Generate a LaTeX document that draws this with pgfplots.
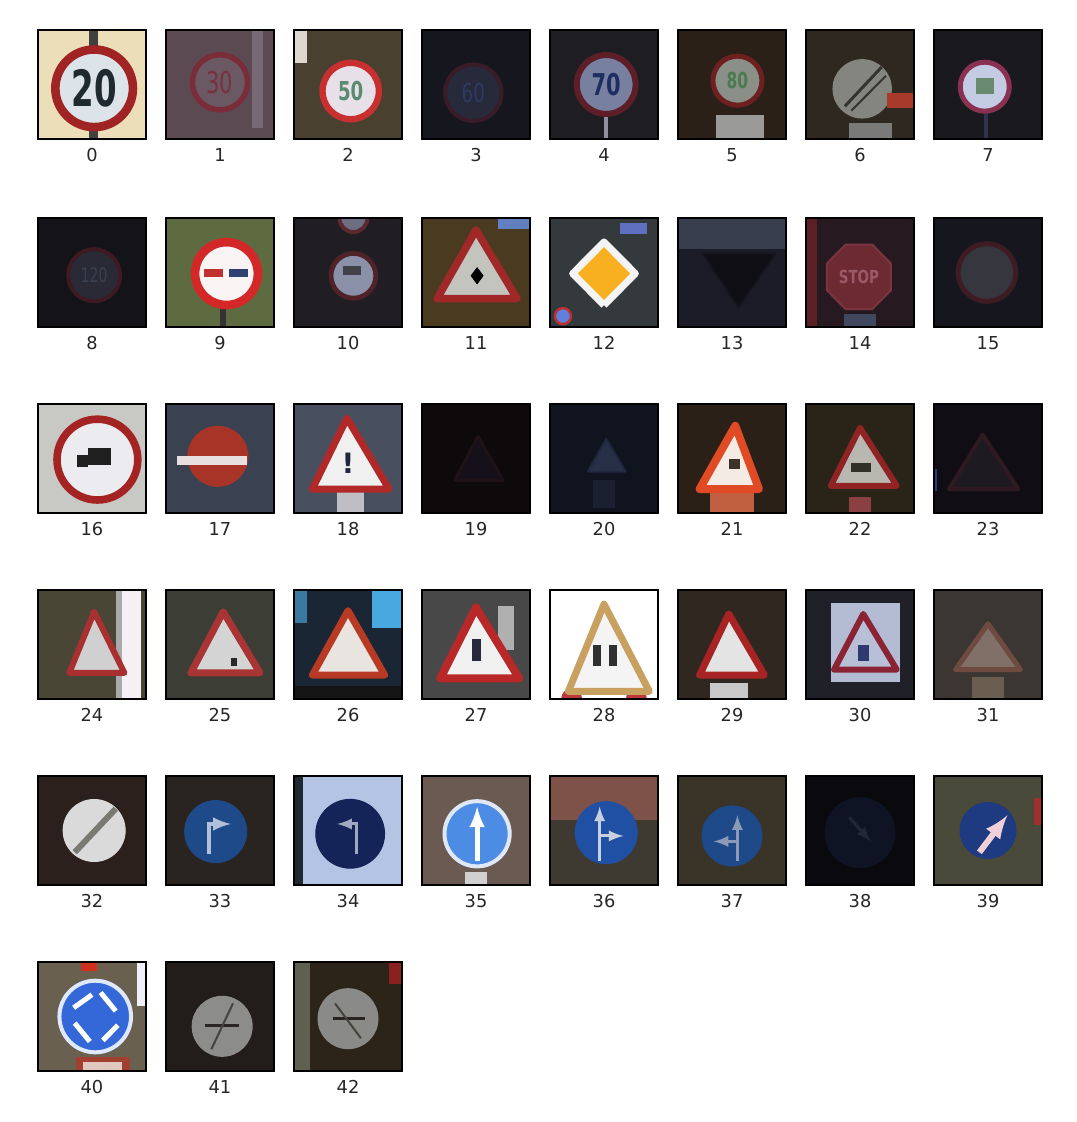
\documentclass[border=0pt]{standalone}
\usepackage{pgfplots}
\pgfplotsset{compat=1.18}
\usepackage{fontspec}
\setmainfont{DejaVu Sans}
\newcommand{\C}[2]{\definecolor{#1}{HTML}{#2}}
\newcommand{\disc}[6]{\addplot[only marks, mark=*, mark size=#3pt, mark options={fill=#4, draw=#5, line width=#6pt}] coordinates {(#1,#2)};}
\newcommand{\tri}[8]{\addplot[fill=#6, draw=#7, line width=#8pt, line join=round, line cap=round] coordinates {(#1,#3) (#2,#3) (#4,#5) (#1,#3)};}
\newcommand{\rect}[5]{\addplot[fill=#5, draw=none] coordinates {(#1,#2) (#3,#2) (#3,#4) (#1,#4)};}
\newcommand{\seg}[6]{\addplot[draw=#5, line width=#6pt] coordinates {(#1,#2) (#3,#4)};}
\newcommand{\arr}[6]{\addplot[draw=#5, line width=#6pt, -latex] coordinates {(#1,#2) (#3,#4)};}
\pgfplotsset{tile/.style={anchor=north west, width=54pt, height=54.5pt, scale only axis,
  xmin=0, xmax=1, ymin=0, ymax=1, xtick=\empty, ytick=\empty, axis on top,
  axis line style={line width=0.6pt, black}, clip marker paths=true}}
\begin{document}
\begin{tikzpicture}
\useasboundingbox (0,0) rectangle (538pt,-561pt);
% ---------- row 0 ----------
\begin{axis}[tile, at={(19pt,-15pt)}, axis background/.style={fill={rgb,255:red,236;green,222;blue,184}}]
\rect{0.47}{0}{0.56}{1}{black!75}
\disc{0.52}{0.465}{19.4}{{rgb,255:red,220;green,228;blue,234}}{{rgb,255:red,160;green,36;blue,36}}{4.3}
\node[font=\fontsize{25}{25}\selectfont\bfseries, text={rgb,255:red,30;green,42;blue,48}, xscale=0.65] at (axis cs:0.52,0.465) {20};
\end{axis}
\begin{axis}[tile, at={(83pt,-15pt)}, axis background/.style={fill={rgb,255:red,92;green,74;blue,82}}]
\rect{0.8}{0.1}{0.9}{1}{{rgb,255:red,120;green,105;blue,118}}
\disc{0.5}{-0.05}{10}{{rgb,255:red,90;green,69;blue,80}}{{rgb,255:red,110;green,42;blue,53}}{2.5}
\disc{0.5}{0.52}{13.8}{{rgb,255:red,106;green,88;blue,98}}{{rgb,255:red,122;green,44;blue,56}}{2.7}
\node[font=\fontsize{15}{15}\selectfont, text={rgb,255:red,122;green,48;blue,64}, xscale=0.7] at (axis cs:0.5,0.52) {30};
\end{axis}
\begin{axis}[tile, at={(147pt,-15pt)}, axis background/.style={fill={rgb,255:red,74;green,64;blue,48}}]
\rect{0}{0.7}{0.12}{1}{{rgb,255:red,224;green,216;blue,208}}
\disc{0.525}{0.44}{14.1}{{rgb,255:red,232;green,224;blue,232}}{{rgb,255:red,200;green,48;blue,48}}{3.2}
\node[font=\fontsize{13}{13}\selectfont\bfseries, text={rgb,255:red,90;green,138;blue,112}, xscale=0.7] at (axis cs:0.525,0.44) {50};
\end{axis}
\begin{axis}[tile, at={(211pt,-15pt)}, axis background/.style={fill={rgb,255:red,22;green,22;blue,30}}]
\disc{0.475}{0.425}{14.1}{{rgb,255:red,38;green,42;blue,58}}{{rgb,255:red,58;green,28;blue,40}}{2}
\node[font=\fontsize{13}{13}\selectfont, text={rgb,255:red,46;green,58;blue,98}, xscale=0.7] at (axis cs:0.475,0.425) {60};
\end{axis}
\begin{axis}[tile, at={(275pt,-15pt)}, axis background/.style={fill={rgb,255:red,30;green,30;blue,34}}]
\rect{0.5}{0}{0.54}{0.2}{{rgb,255:red,144;green,144;blue,160}}
\disc{0.52}{0.5}{14.7}{{rgb,255:red,120;green,128;blue,160}}{{rgb,255:red,94;green,30;blue,40}}{3}
\node[font=\fontsize{15}{15}\selectfont\bfseries, text={rgb,255:red,30;green,46;blue,96}, xscale=0.7] at (axis cs:0.52,0.5) {70};
\end{axis}
\begin{axis}[tile, at={(339pt,-15pt)}, axis background/.style={fill={rgb,255:red,42;green,32;blue,24}}]
\rect{0.35}{0}{0.8}{0.22}{{rgb,255:red,154;green,154;blue,152}}
\disc{0.55}{0.535}{12.25}{{rgb,255:red,138;green,144;blue,136}}{{rgb,255:red,110;green,32;blue,32}}{2.5}
\node[font=\fontsize{11}{11}\selectfont\bfseries, text={rgb,255:red,74;green,122;blue,80}, xscale=0.7] at (axis cs:0.55,0.535) {80};
\end{axis}
\begin{axis}[tile, at={(403pt,-15pt)}, axis background/.style={fill={rgb,255:red,46;green,40;blue,32}}]
\rect{0.4}{0}{0.8}{0.15}{{rgb,255:red,122;green,122;blue,120}}
\disc{0.52}{0.46}{14.6}{{rgb,255:red,133;green,133;blue,128}}{{rgb,255:red,133;green,133;blue,128}}{0.5}
\seg{0.36}{0.3}{0.7}{0.66}{{rgb,255:red,51;green,51;blue,48}}{1.5}
\seg{0.42}{0.26}{0.74}{0.58}{{rgb,255:red,51;green,51;blue,48}}{1}
\rect{0.75}{0.28}{1}{0.42}{{rgb,255:red,168;green,58;blue,42}}
\end{axis}
\begin{axis}[tile, at={(467pt,-15pt)}, axis background/.style={fill={rgb,255:red,26;green,26;blue,30}}]
\rect{0.46}{0}{0.5}{0.25}{{rgb,255:red,48;green,48;blue,80}}
\disc{0.47}{0.48}{12.25}{{rgb,255:red,196;green,204;blue,228}}{{rgb,255:red,138;green,48;blue,80}}{2.5}
\rect{0.39}{0.41}{0.56}{0.56}{{rgb,255:red,106;green,138;blue,112}}
\end{axis}
% ---------- row 1 ----------
\begin{axis}[tile, at={(19pt,-109pt)}, axis background/.style={fill={rgb,255:red,20;green,20;blue,24}}]
\disc{0.52}{-0.02}{9}{{rgb,255:red,30;green,26;blue,32}}{{rgb,255:red,58;green,24;blue,32}}{2}
\disc{0.52}{0.475}{13}{{rgb,255:red,42;green,42;blue,54}}{{rgb,255:red,62;green,26;blue,34}}{2}
\node[font=\fontsize{10}{10}\selectfont, text={rgb,255:red,58;green,64;blue,80}, xscale=0.7] at (axis cs:0.52,0.475) {120};
\end{axis}
\begin{axis}[tile, at={(83pt,-109pt)}, axis background/.style={fill={rgb,255:red,94;green,106;blue,64}}]
\rect{0.5}{0}{0.56}{0.17}{black!80}
\disc{0.56}{0.49}{15.7}{{rgb,255:red,248;green,244;blue,244}}{{rgb,255:red,212;green,40;blue,40}}{4.3}
\rect{0.35}{0.46}{0.53}{0.53}{{rgb,255:red,192;green,48;blue,48}}
\rect{0.58}{0.46}{0.76}{0.53}{{rgb,255:red,48;green,64;blue,112}}
\end{axis}
\begin{axis}[tile, at={(147pt,-109pt)}, axis background/.style={fill={rgb,255:red,32;green,30;blue,34}}]
\disc{0.55}{1.0}{7}{{rgb,255:red,110;green,110;blue,130}}{{rgb,255:red,90;green,42;blue,48}}{2}
\disc{0.55}{0.47}{11.2}{{rgb,255:red,138;green,144;blue,168}}{{rgb,255:red,78;green,34;blue,40}}{2.4}
\rect{0.45}{0.48}{0.62}{0.56}{{rgb,255:red,64;green,64;blue,72}}
\end{axis}
\begin{axis}[tile, at={(211pt,-109pt)}, axis background/.style={fill={rgb,255:red,74;green,58;blue,32}}]
\rect{0.7}{0.9}{1}{1}{{rgb,255:red,96;green,128;blue,192}}
\tri{0.14}{0.88}{0.26}{0.5}{0.89}{{rgb,255:red,196;green,196;blue,190}}{{rgb,255:red,160;green,40;blue,40}}{3.8}
\addplot[only marks, mark=diamond*, mark size=4pt, mark options={fill=black, draw=black}] coordinates {(0.51,0.47)};
\end{axis}
\begin{axis}[tile, at={(275pt,-109pt)}, axis background/.style={fill={rgb,255:red,52;green,58;blue,60}}]
\rect{0.65}{0.85}{0.9}{0.95}{{rgb,255:red,96;green,112;blue,192}}
\disc{0.12}{0.1}{4}{{rgb,255:red,96;green,128;blue,224}}{{rgb,255:red,192;green,48;blue,48}}{1.2}
\addplot[fill={rgb,255:red,248;green,176;blue,32}, draw={rgb,255:red,244;green,244;blue,244}, line width=3.5pt, line join=round] coordinates {(0.5,0.2) (0.79,0.49) (0.5,0.78) (0.21,0.49) (0.5,0.2)};
\end{axis}
\begin{axis}[tile, at={(339pt,-109pt)}, axis background/.style={fill={rgb,255:red,28;green,28;blue,40}}]
\rect{0}{0.72}{1}{1}{{rgb,255:red,56;green,62;blue,78}}
\tri{0.23}{0.9}{0.67}{0.56}{0.18}{{rgb,255:red,14;green,14;blue,20}}{{rgb,255:red,20;green,20;blue,28}}{1}
\end{axis}
\begin{axis}[tile, at={(403pt,-109pt)}, axis background/.style={fill={rgb,255:red,38;green,26;blue,32}}]
\rect{0}{0}{0.1}{1}{{rgb,255:red,90;green,32;blue,37}}
\rect{0.35}{0}{0.65}{0.12}{{rgb,255:red,64;green,72;blue,96}}
\addplot[fill={rgb,255:red,110;green,42;blue,50}, draw={rgb,255:red,122;green,53;blue,64}, line width=1pt] coordinates {(0.786,0.583) (0.613,0.756) (0.367,0.756) (0.194,0.583) (0.194,0.337) (0.367,0.164) (0.613,0.164) (0.786,0.337) (0.786,0.583)};
\node[font=\fontsize{9}{9}\selectfont\bfseries, text={rgb,255:red,154;green,90;blue,104}, xscale=0.75] at (axis cs:0.49,0.46) {STOP};
\end{axis}
\begin{axis}[tile, at={(467pt,-109pt)}, axis background/.style={fill={rgb,255:red,22;green,22;blue,30}}]
\disc{0.49}{0.5}{14.4}{{rgb,255:red,54;green,54;blue,62}}{{rgb,255:red,62;green,28;blue,36}}{2.5}
\end{axis}
% ---------- row 2 ----------
\begin{axis}[tile, at={(19pt,-202pt)}, axis background/.style={fill={rgb,255:red,200;green,200;blue,196}}]
\disc{0.55}{0.49}{20.2}{{rgb,255:red,236;green,236;blue,240}}{{rgb,255:red,164;green,36;blue,36}}{3.8}
\rect{0.46}{0.44}{0.68}{0.6}{{rgb,255:red,32;green,32;blue,32}}
\rect{0.36}{0.42}{0.46}{0.53}{{rgb,255:red,32;green,32;blue,32}}
\end{axis}
\begin{axis}[tile, at={(83pt,-202pt)}, axis background/.style={fill={rgb,255:red,58;green,66;blue,82}}]
\disc{0.48}{0.52}{15}{{rgb,255:red,168;green,52;blue,40}}{{rgb,255:red,168;green,52;blue,40}}{0.5}
\rect{0.1}{0.44}{0.75}{0.52}{{rgb,255:red,232;green,224;blue,224}}
\end{axis}
\begin{axis}[tile, at={(147pt,-202pt)}, axis background/.style={fill={rgb,255:red,72;green,80;blue,96}}]
\rect{0.4}{0}{0.65}{0.2}{{rgb,255:red,190;green,190;blue,196}}
\tri{0.17}{0.88}{0.22}{0.49}{0.87}{{rgb,255:red,240;green,240;blue,240}}{{rgb,255:red,176;green,40;blue,40}}{3.5}
\node[font=\fontsize{14}{14}\selectfont\bfseries, text={rgb,255:red,30;green,40;blue,60}] at (axis cs:0.5,0.46) {!};
\end{axis}
\begin{axis}[tile, at={(211pt,-202pt)}, axis background/.style={fill={rgb,255:red,14;green,10;blue,12}}]
\tri{0.3}{0.75}{0.3}{0.52}{0.7}{{rgb,255:red,22;green,16;blue,26}}{{rgb,255:red,30;green,18;blue,22}}{1.5}
\end{axis}
\begin{axis}[tile, at={(275pt,-202pt)}, axis background/.style={fill={rgb,255:red,16;green,20;blue,30}}]
\rect{0.4}{0.05}{0.6}{0.3}{{rgb,255:red,26;green,32;blue,48}}
\tri{0.35}{0.7}{0.38}{0.52}{0.68}{{rgb,255:red,40;green,48;blue,72}}{{rgb,255:red,32;green,40;blue,64}}{1}
\end{axis}
\begin{axis}[tile, at={(339pt,-202pt)}, axis background/.style={fill={rgb,255:red,42;green,32;blue,24}}]
\rect{0.3}{0}{0.7}{0.2}{{rgb,255:red,192;green,96;blue,64}}
\tri{0.2}{0.75}{0.22}{0.53}{0.8}{{rgb,255:red,244;green,236;blue,228}}{{rgb,255:red,224;green,74;blue,36}}{4}
\rect{0.47}{0.4}{0.57}{0.5}{{rgb,255:red,60;green,50;blue,40}}
\end{axis}
\begin{axis}[tile, at={(403pt,-202pt)}, axis background/.style={fill={rgb,255:red,42;green,36;blue,24}}]
\rect{0.4}{0}{0.6}{0.15}{{rgb,255:red,138;green,64;blue,64}}
\tri{0.23}{0.84}{0.25}{0.5}{0.78}{{rgb,255:red,184;green,184;blue,176}}{{rgb,255:red,144;green,36;blue,36}}{3}
\rect{0.42}{0.38}{0.6}{0.46}{{rgb,255:red,48;green,48;blue,40}}
\end{axis}
\begin{axis}[tile, at={(467pt,-202pt)}, axis background/.style={fill={rgb,255:red,16;green,14;blue,20}}]
\rect{0}{0.2}{0.03}{0.4}{{rgb,255:red,48;green,58;blue,128}}
\tri{0.14}{0.78}{0.22}{0.45}{0.72}{{rgb,255:red,30;green,26;blue,34}}{{rgb,255:red,46;green,26;blue,32}}{2}
\end{axis}
% ---------- row 3 ----------
\begin{axis}[tile, at={(19pt,-295pt)}, axis background/.style={fill={rgb,255:red,74;green,70;blue,54}}]
\rect{0.72}{0}{0.78}{1}{{rgb,255:red,170;green,170;blue,170}}
\rect{0.78}{0}{0.95}{1}{{rgb,255:red,244;green,240;blue,244}}
\tri{0.29}{0.8}{0.24}{0.52}{0.8}{{rgb,255:red,208;green,208;blue,208}}{{rgb,255:red,168;green,48;blue,48}}{3}
\end{axis}
\begin{axis}[tile, at={(83pt,-295pt)}, axis background/.style={fill={rgb,255:red,60;green,62;blue,54}}]
\tri{0.23}{0.87}{0.24}{0.53}{0.8}{{rgb,255:red,212;green,212;blue,212}}{{rgb,255:red,168;green,52;blue,52}}{3.5}
\rect{0.6}{0.3}{0.66}{0.38}{{rgb,255:red,40;green,40;blue,40}}
\end{axis}
\begin{axis}[tile, at={(147pt,-295pt)}, axis background/.style={fill={rgb,255:red,26;green,38;blue,52}}]
\rect{0.72}{0.65}{1}{1}{{rgb,255:red,72;green,168;blue,224}}
\rect{0}{0.7}{0.12}{1}{{rgb,255:red,58;green,122;blue,160}}
\rect{0}{0}{1}{0.12}{{rgb,255:red,20;green,20;blue,20}}
\tri{0.17}{0.84}{0.22}{0.5}{0.81}{{rgb,255:red,232;green,228;blue,224}}{{rgb,255:red,184;green,58;blue,36}}{3.5}
\end{axis}
\begin{axis}[tile, at={(211pt,-295pt)}, axis background/.style={fill={rgb,255:red,72;green,72;blue,72}}]
\rect{0.7}{0.45}{0.85}{0.85}{{rgb,255:red,176;green,176;blue,176}}
\disc{0.5}{-0.05}{7}{{rgb,255:red,224;green,224;blue,224}}{{rgb,255:red,176;green,40;blue,40}}{2.5}
\tri{0.17}{0.9}{0.19}{0.5}{0.84}{{rgb,255:red,240;green,240;blue,240}}{{rgb,255:red,184;green,40;blue,40}}{4}
\rect{0.46}{0.35}{0.55}{0.55}{{rgb,255:red,40;green,40;blue,60}}
\end{axis}
\begin{axis}[tile, at={(275pt,-295pt)}, axis background/.style={fill=white}]
\disc{0.2}{0.0}{5}{{rgb,255:red,184;green,58;blue,58}}{{rgb,255:red,184;green,58;blue,58}}{0.5}
\disc{0.8}{0.0}{5}{{rgb,255:red,184;green,58;blue,58}}{{rgb,255:red,184;green,58;blue,58}}{0.5}
\tri{0.17}{0.92}{0.07}{0.5}{0.87}{{rgb,255:red,244;green,244;blue,244}}{{rgb,255:red,200;green,160;blue,96}}{3.5}
\rect{0.4}{0.3}{0.47}{0.5}{{rgb,255:red,48;green,48;blue,48}}
\rect{0.55}{0.3}{0.62}{0.5}{{rgb,255:red,48;green,48;blue,48}}
\end{axis}
\begin{axis}[tile, at={(339pt,-295pt)}, axis background/.style={fill={rgb,255:red,48;green,40;blue,32}}]
\rect{0.3}{0}{0.65}{0.15}{{rgb,255:red,200;green,200;blue,200}}
\tri{0.2}{0.8}{0.22}{0.47}{0.78}{{rgb,255:red,228;green,228;blue,228}}{{rgb,255:red,168;green,36;blue,36}}{3.5}
\end{axis}
\begin{axis}[tile, at={(403pt,-295pt)}, axis background/.style={fill={rgb,255:red,32;green,32;blue,40}}]
\rect{0.23}{0.16}{0.87}{0.88}{{rgb,255:red,180;green,188;blue,212}}
\tri{0.26}{0.84}{0.27}{0.53}{0.78}{{rgb,255:red,184;green,192;blue,216}}{{rgb,255:red,138;green,36;blue,52}}{3}
\rect{0.48}{0.35}{0.58}{0.5}{{rgb,255:red,48;green,56;blue,112}}
\end{axis}
\begin{axis}[tile, at={(467pt,-295pt)}, axis background/.style={fill={rgb,255:red,60;green,54;blue,50}}]
\rect{0.35}{0}{0.65}{0.2}{{rgb,255:red,106;green,94;blue,80}}
\tri{0.2}{0.8}{0.27}{0.5}{0.69}{{rgb,255:red,128;green,112;blue,104}}{{rgb,255:red,110;green,74;blue,64}}{2.5}
\end{axis}
% ---------- row 4 ----------
\begin{axis}[tile, at={(19pt,-388pt)}, axis background/.style={fill={rgb,255:red,44;green,32;blue,28}}]
\disc{0.52}{0.5}{15.5}{{rgb,255:red,218;green,218;blue,218}}{{rgb,255:red,218;green,218;blue,218}}{0.5}
\seg{0.34}{0.3}{0.72}{0.7}{{rgb,255:red,122;green,122;blue,114}}{3}
\end{axis}
\begin{axis}[tile, at={(83pt,-388pt)}, axis background/.style={fill={rgb,255:red,42;green,36;blue,32}}]
\disc{0.46}{0.49}{15.5}{{rgb,255:red,30;green,74;blue,138}}{{rgb,255:red,30;green,74;blue,138}}{0.5}
\addplot[draw={rgb,255:red,176;green,192;blue,216}, line width=2pt, -latex] coordinates {(0.4,0.28) (0.4,0.56) (0.6,0.56)};
\end{axis}
\begin{axis}[tile, at={(147pt,-388pt)}, axis background/.style={fill={rgb,255:red,180;green,196;blue,228}}]
\rect{0}{0}{0.08}{1}{{rgb,255:red,32;green,40;blue,48}}
\disc{0.52}{0.47}{17.2}{{rgb,255:red,20;green,36;blue,88}}{{rgb,255:red,20;green,36;blue,88}}{0.5}
\addplot[draw={rgb,255:red,160;green,168;blue,192}, line width=1.5pt, -latex] coordinates {(0.58,0.28) (0.58,0.56) (0.4,0.56)};
\end{axis}
\begin{axis}[tile, at={(211pt,-388pt)}, axis background/.style={fill={rgb,255:red,106;green,90;blue,82}}]
\rect{0.4}{0}{0.6}{0.12}{{rgb,255:red,208;green,208;blue,208}}
\disc{0.51}{0.47}{16.3}{{rgb,255:red,76;green,140;blue,228}}{{rgb,255:red,224;green,232;blue,248}}{2}
\arr{0.51}{0.22}{0.51}{0.72}{white}{2.5}
\end{axis}
\begin{axis}[tile, at={(275pt,-388pt)}, axis background/.style={fill={rgb,255:red,62;green,58;blue,50}}]
\rect{0}{0.6}{1}{1}{{rgb,255:red,126;green,82;blue,72}}
\disc{0.52}{0.48}{15.5}{{rgb,255:red,32;green,80;blue,164}}{{rgb,255:red,32;green,80;blue,164}}{0.5}
\arr{0.46}{0.22}{0.46}{0.72}{{rgb,255:red,200;green,208;blue,224}}{1.5}
\arr{0.46}{0.45}{0.68}{0.45}{{rgb,255:red,200;green,208;blue,224}}{1.5}
\end{axis}
\begin{axis}[tile, at={(339pt,-388pt)}, axis background/.style={fill={rgb,255:red,58;green,52;blue,40}}]
\disc{0.5}{0.45}{15}{{rgb,255:red,30;green,74;blue,138}}{{rgb,255:red,30;green,74;blue,138}}{0.5}
\arr{0.55}{0.22}{0.55}{0.64}{{rgb,255:red,138;green,154;blue,184}}{1.5}
\arr{0.55}{0.4}{0.33}{0.4}{{rgb,255:red,138;green,154;blue,184}}{1.5}
\end{axis}
\begin{axis}[tile, at={(403pt,-388pt)}, axis background/.style={fill={rgb,255:red,10;green,10;blue,14}}]
\disc{0.5}{0.48}{17.5}{{rgb,255:red,14;green,20;blue,36}}{{rgb,255:red,14;green,20;blue,36}}{0.5}
\arr{0.4}{0.62}{0.6}{0.4}{{rgb,255:red,32;green,40;blue,56}}{1.5}
\end{axis}
\begin{axis}[tile, at={(467pt,-388pt)}, axis background/.style={fill={rgb,255:red,74;green,74;blue,58}}]
\rect{0.93}{0.55}{1}{0.8}{{rgb,255:red,160;green,48;blue,48}}
\disc{0.5}{0.5}{14}{{rgb,255:red,30;green,58;blue,128}}{{rgb,255:red,30;green,58;blue,128}}{0.5}
\arr{0.42}{0.3}{0.68}{0.64}{{rgb,255:red,240;green,208;blue,216}}{3}
\end{axis}
% ---------- row 5 ----------
\begin{axis}[tile, at={(19pt,-481pt)}, axis background/.style={fill={rgb,255:red,106;green,96;blue,80}}]
\rect{0.35}{0}{0.85}{0.13}{{rgb,255:red,160;green,64;blue,48}}
\rect{0.42}{0}{0.78}{0.08}{{rgb,255:red,224;green,200;blue,190}}
\rect{0.4}{0.92}{0.55}{1}{{rgb,255:red,208;green,48;blue,32}}
\rect{0.92}{0.6}{1}{1}{{rgb,255:red,240;green,240;blue,248}}
\disc{0.53}{0.5}{17.9}{{rgb,255:red,52;green,104;blue,216}}{{rgb,255:red,224;green,232;blue,255}}{2}
\seg{0.33}{0.58}{0.5}{0.7}{white}{2.5}
\seg{0.58}{0.72}{0.72}{0.55}{white}{2.5}
\seg{0.74}{0.42}{0.6}{0.28}{white}{2.5}
\seg{0.48}{0.27}{0.34}{0.44}{white}{2.5}
\end{axis}
\begin{axis}[tile, at={(83pt,-481pt)}, axis background/.style={fill={rgb,255:red,34;green,28;blue,26}}]
\disc{0.52}{1.02}{12.5}{{rgb,255:red,90;green,80;blue,80}}{{rgb,255:red,138;green,42;blue,40}}{3}
\disc{0.52}{0.41}{15}{{rgb,255:red,140;green,140;blue,138}}{{rgb,255:red,140;green,140;blue,138}}{0.5}
\seg{0.36}{0.42}{0.68}{0.42}{{rgb,255:red,42;green,38;blue,38}}{1.3}
\seg{0.42}{0.2}{0.62}{0.62}{{rgb,255:red,70;green,66;blue,66}}{1}
\end{axis}
\begin{axis}[tile, at={(147pt,-481pt)}, axis background/.style={fill={rgb,255:red,44;green,36;blue,24}}]
\rect{0}{0}{0.15}{1}{{rgb,255:red,96;green,96;blue,80}}
\rect{0.88}{0.8}{1}{1}{{rgb,255:red,138;green,32;blue,32}}
\disc{0.5}{0.48}{15}{{rgb,255:red,138;green,138;blue,136}}{{rgb,255:red,138;green,138;blue,136}}{0.5}
\seg{0.36}{0.48}{0.66}{0.48}{{rgb,255:red,40;green,36;blue,34}}{1.3}
\seg{0.38}{0.62}{0.62}{0.3}{{rgb,255:red,70;green,66;blue,60}}{1}
\end{axis}
% ---------- labels ----------
\foreach \i in {0,...,42}{
  \pgfmathtruncatemacro{\col}{mod(\i,8)}
  \pgfmathtruncatemacro{\row}{floor(\i/8)}
  \pgfmathsetmacro{\top}{{15,109,202,295,388,481}[\row]}
  \node[font=\fontsize{8.9}{10}\selectfont, text={rgb,255:red,38;green,38;blue,38}] at ({46pt+64pt*\col}, {-\top pt-62.5pt}) {\i};
}
\end{tikzpicture}
\end{document}
